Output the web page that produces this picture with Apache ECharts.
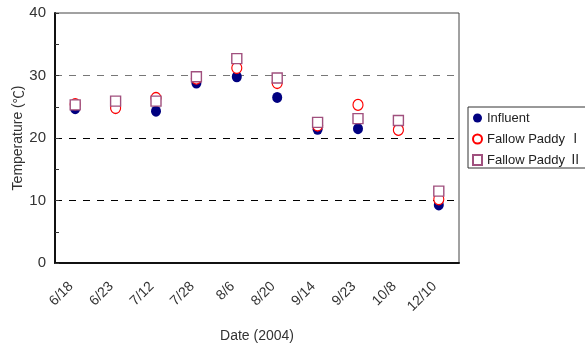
<!DOCTYPE html>
<html><head><meta charset="utf-8">
<script src="https://cdn.jsdelivr.net/npm/echarts@6/dist/echarts.min.js"></script>
<style>html,body{margin:0;padding:0;background:#fff}#c{width:585px;height:344px}</style>
</head><body><div id="c"></div>
<script>
var categories = ['6/18','6/23','7/12','7/28','8/6','8/20','9/14','9/23','10/8','12/10'];
var influent = [24.7, 24.8, 24.3, 28.8, 29.8, 26.5, 21.4, 21.5, 21.3, 9.3];
var fallow1 = [25.4, 24.8, 26.4, 29.5, 31.2, 28.8, 22.0, 25.3, 21.3, 10.2];
var fallow2 = [25.3, 25.9, 25.9, 29.8, 32.7, 29.6, 22.5, 23.1, 22.8, 11.5];
var yTicks = [0, 10, 20, 30, 40];

var FONT = '"Liberation Sans", Arial, "Noto Sans CJK KR", sans-serif';
var CJK = '"Noto Sans CJK KR", sans-serif';
var chart = echarts.init(document.getElementById('c'), null, {renderer: 'canvas'});
chart.setOption({
  animation: false,
  backgroundColor: '#fff',
  textStyle: {fontFamily: FONT},
  grid: {left: 55, right: 126, top: 13, bottom: 81, show: true, borderColor: '#444', borderWidth: 1,
         backgroundColor: 'transparent', containLabel: false, outerBoundsMode: 'none'},
  legend: {
    orient: 'vertical', left: 468, top: 107,
    padding: [4, 5, 1, 4],
    borderColor: '#333', borderWidth: 1,
    itemWidth: 9, itemHeight: 10, itemGap: 7,
    textStyle: {fontSize: 13, color: '#222', fontFamily: FONT, lineHeight: 14},
    data: ['Influent', 'Fallow Paddy Ⅰ', 'Fallow Paddy Ⅱ']
  },
  xAxis: {
    type: 'category', data: categories, boundaryGap: true,
    name: 'Date (2004)', nameLocation: 'middle', nameGap: 66, nameMoveOverlap: false,
    nameTextStyle: {fontSize: 14, color: '#333'},
    axisLine: {lineStyle: {color: '#111', width: 2}},
    axisTick: {inside: true, length: 4, lineStyle: {color: '#333'}},
    axisLabel: {rotate: 45, fontSize: 14, color: '#333', margin: 17, interval: 0, padding: [0, 6, 8, 0]},
    splitLine: {show: false}
  },
  yAxis: {
    type: 'value', min: yTicks[0], max: yTicks[yTicks.length - 1], interval: 10,
    name: 'Temperature ({c|℃})', nameLocation: 'middle', nameGap: 30, nameMoveOverlap: false,
    nameTextStyle: {fontSize: 14, color: '#333', rich: {c: {fontFamily: CJK, fontSize: 13, color: '#333'}}},
    axisLine: {show: true, lineStyle: {color: '#111', width: 2}},
    axisTick: {show: true, inside: true, length: 4, lineStyle: {color: '#333'}},
    minorTick: {show: true, splitNumber: 2, length: 4, lineStyle: {color: '#333'}},
    axisLabel: {fontSize: 15, color: '#333', margin: 9},
    splitLine: {show: true, lineStyle: {color: ['transparent', '#000', '#000', '#777', 'transparent'], type: [7, 7], width: 1}}
  },
  series: [
    {name: 'Influent', type: 'scatter', data: influent, symbol: 'circle', symbolSize: [10, 11],
     itemStyle: {color: '#000080', opacity: 1}, z: 2},
    {name: 'Fallow Paddy Ⅰ', type: 'scatter', data: fallow1, symbol: 'circle', symbolSize: [10, 11],
     itemStyle: {color: '#fff', borderColor: '#ff0000', borderWidth: 1.2, opacity: 1}, z: 3},
    {name: 'Fallow Paddy Ⅱ', type: 'scatter', data: fallow2, symbol: 'rect', symbolSize: [10, 10],
     itemStyle: {color: '#fff', borderColor: '#a0507e', borderWidth: 1.4, opacity: 1}, z: 4}
  ]
});
</script></body></html>
